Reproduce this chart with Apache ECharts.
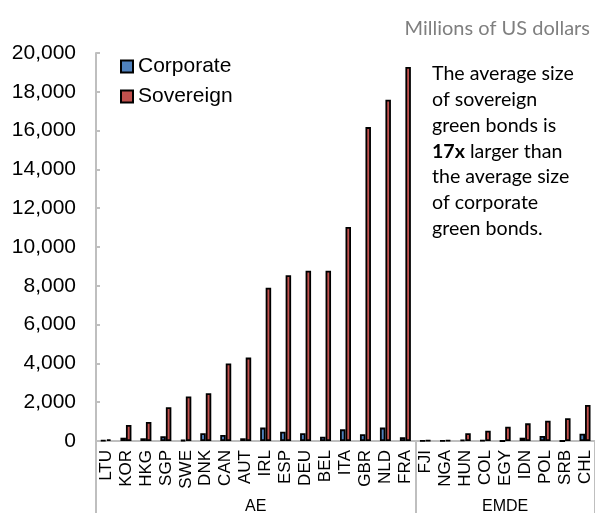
<!DOCTYPE html>
<html><head><meta charset="utf-8">
<script src="https://cdn.jsdelivr.net/npm/echarts@6/dist/echarts.min.js"></script>
<style>html,body{margin:0;padding:0;background:#fff}#c{width:595px;height:513px}</style>
</head><body><div id="c"></div>
<script>
const categories = ['LTU','KOR','HKG','SGP','SWE','DNK','CAN','AUT','IRL','ESP','DEU','BEL','ITA','GBR','NLD','FRA','FJI','NGA','HUN','COL','EGY','IDN','POL','SRB','CHL'];
const groups = [{name:'AE', from:0, to:15}, {name:'EMDE', from:16, to:24}];
const corporate = [30,170,140,240,50,400,310,140,690,480,400,220,600,350,690,190,10,20,60,30,0,170,260,0,380];
const sovereign = [90,830,980,1740,2290,2460,4000,4300,7900,8550,8780,8780,11030,16180,17590,19280,30,40,400,530,740,910,1050,1170,1860];
const yTicks = {min:0, max:20000, interval:2000};

const chart = echarts.init(document.getElementById('c'), null, {renderer:'canvas'});
const F = "'Liberation Sans', Arial, sans-serif";
const C = "Lato, 'Open Sans', sans-serif";
chart.setOption({
  animation:false,
  title:{text:'Millions of US dollars', right:0, top:14, textStyle:{fontFamily:C, fontSize:20, fontWeight:'normal', color:'#7f7f7f'}},
  legend:{orient:'vertical', left:115, top:51, itemWidth:12, itemHeight:12, itemGap:9, icon:'rect',
    textStyle:{fontFamily:F, fontSize:21, color:'#000'}, data:['Corporate','Sovereign']},
  grid:{left:96, right:0, top:53, bottom:72},
  xAxis:{type:'category', data:categories,
    axisLine:{lineStyle:{color:'#bfbfbf', width:2}},
    axisTick:{show:true, length:72, interval:(i)=>i===0||i===16, lineStyle:{color:'#bfbfbf', width:2}},
    axisLabel:{rotate:90, interval:0, fontFamily:F, fontSize:17, color:'#000', margin:9}},
  yAxis:{type:'value', min:yTicks.min, max:yTicks.max, interval:yTicks.interval,
    splitLine:{show:false},
    axisLine:{show:true, lineStyle:{color:'#bfbfbf', width:2}},
    axisTick:{show:true, inside:true, length:4, lineStyle:{color:'#bfbfbf', width:2}},
    axisLabel:{fontFamily:F, fontSize:21, color:'#000', margin:20,
      formatter:(v)=>v.toLocaleString('en-US')}},
  series:[
    {name:'Corporate', type:'bar', data:corporate, barWidth:5.5, barGap:'0%',
      itemStyle:{color:'#4f81bd', borderColor:'#000', borderWidth:1.8}},
    {name:'Sovereign', type:'bar', data:sovereign, barWidth:5.5, barGap:'0%',
      itemStyle:{color:'#c0504d', borderColor:'#000', borderWidth:1.8}}
  ]
});
const gfx = [];
groups.forEach(g=>{
  const x1 = chart.convertToPixel({xAxisIndex:0}, categories[g.from]);
  const x2 = chart.convertToPixel({xAxisIndex:0}, categories[g.to]);
  gfx.push({type:'text', x:(x1+x2)/2, y:499, style:{text:g.name, fontFamily:F, fontSize:16, fill:'#000', align:'center', verticalAlign:'top'}});
});
gfx.push({type:'text', left:432, top:61, style:{
  text:'The average size\nof sovereign\ngreen bonds is\n{b|17x} larger than\nthe average size\nof corporate\ngreen bonds.',
  fontFamily:C, fontSize:19.6, lineHeight:25.8, fill:'#000',
  rich:{b:{fontFamily:C, fontSize:19.6, fontWeight:'bold', fill:'#000', lineHeight:25.8}}}});
chart.setOption({graphic:gfx});
</script></body></html>
